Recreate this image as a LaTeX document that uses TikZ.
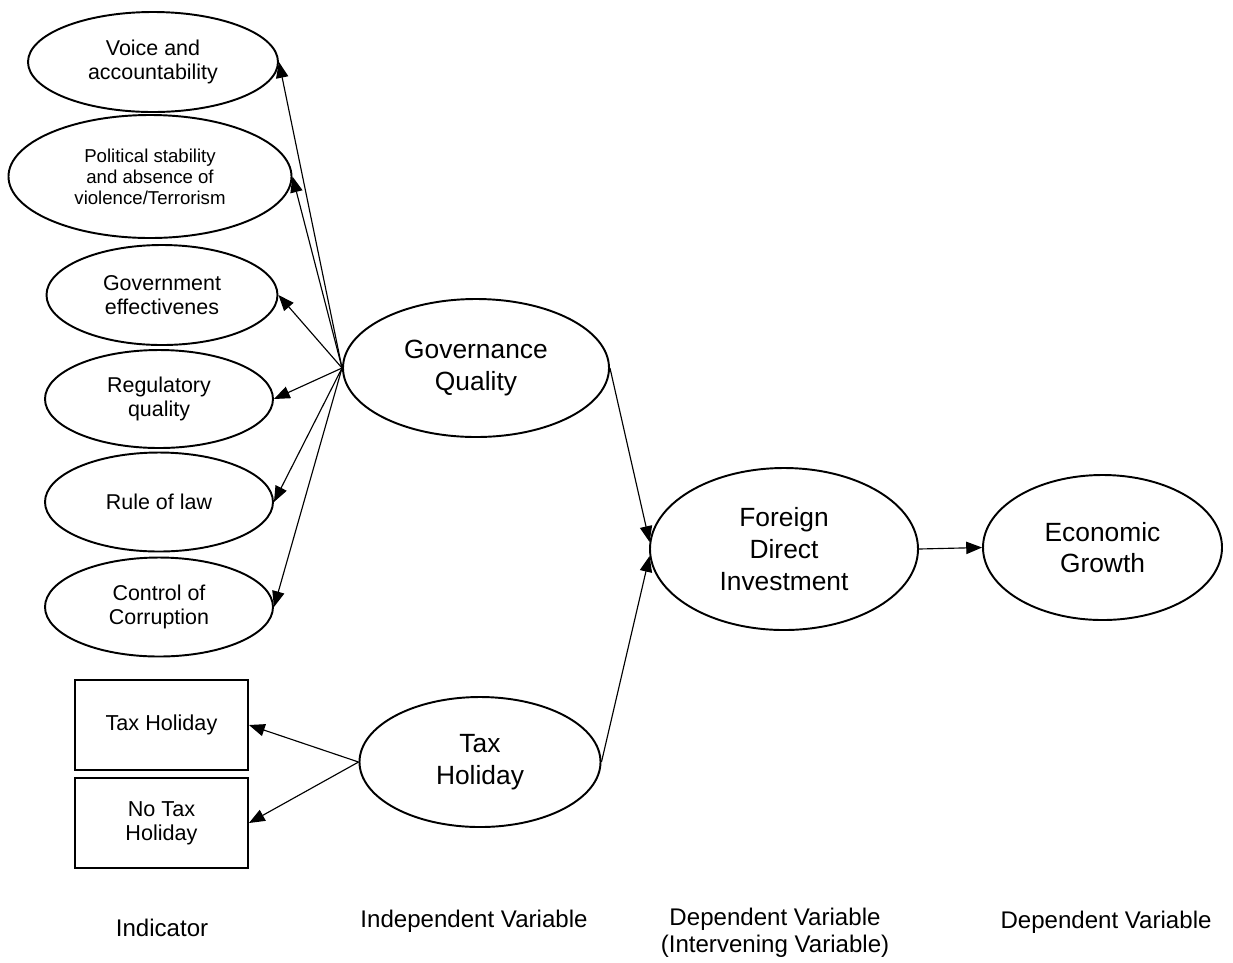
\documentclass[tikz,border=0pt]{standalone}
\usepackage{fontspec}
\setmainfont{Liberation Sans}
\usepackage{tikz}
\usetikzlibrary{shapes.geometric, arrows.meta, positioning}

\begin{document}
\begin{tikzpicture}[
      ell/.style={ellipse, draw, line width=1.1pt, inner sep=0pt, align=center},
      ind/.style={ell, font=\fontsize{12.2}{13.8}\selectfont},
      var/.style={ell, font=\fontsize{15}{18}\selectfont},
      box/.style={rectangle, draw, line width=1.1pt, inner sep=0pt,
                  minimum width=3.46cm, minimum height=1.8cm,
                  font=\fontsize{12.3}{13.8}\selectfont, align=center},
      lbl/.style={font=\fontsize{13.7}{15.4}\selectfont, align=center},
      arr/.style={-{Triangle[length=9pt,width=7pt]}, line width=0.65pt}
    ]
    \useasboundingbox (0,0) rectangle (24.66,-19.24);

    \node[ind, minimum width=5cm, minimum height=2cm] (voice) at (3.06,-1.24) {Voice and\\accountability};
    \node[ell, font=\fontsize{10.6}{12}\selectfont, minimum width=5.66cm, minimum height=2.46cm] (polit) at (3.0,-3.53) {Political stability\\and absence of\\violence/Terrorism};
    \node[ind, minimum width=4.62cm, minimum height=2cm] (goveff) at (3.24,-5.9) {Government\\effectivenes};
    \node[ind, minimum width=4.56cm, minimum height=1.96cm] (regq) at (3.18,-7.98) {Regulatory\\quality};
    \node[ind, minimum width=4.56cm, minimum height=1.98cm] (rol) at (3.18,-10.04) {Rule of law};
    \node[ind, minimum width=4.56cm, minimum height=1.98cm] (coc) at (3.18,-12.14) {Control of\\Corruption};

    \node[box] (thbox) at (3.23,-14.5) {Tax Holiday};
    \node[box] (nthbox) at (3.23,-16.46) {No Tax\\Holiday};

    \node[var, minimum width=5.32cm, minimum height=2.76cm] (gq) at (9.52,-7.36) {Governance\\Quality};
    \node[var, minimum width=4.82cm, minimum height=2.6cm] (tax) at (9.6,-15.24) {Tax\\Holiday};
    \node[var, minimum width=5.36cm, minimum height=3.24cm] (fdi) at (15.68,-10.98) {Foreign\\Direct\\Investment};
    \node[var, minimum width=4.78cm, minimum height=2.9cm] (eg) at (22.05,-10.95) {Economic\\Growth};

    \node[lbl] (lind) at (3.24,-18.56) {Indicator};
    \node[lbl] (lindep) at (9.48,-18.42) {Independent Variable};
    \node[lbl] (linter) at (15.5,-18.66) {Dependent Variable\\(Intervening Variable)};
    \node[lbl] (ldep) at (22.12,-18.44) {Dependent Variable};

    \foreach \n in {voice, polit, goveff, regq, rol, coc}
      \draw[arr] (gq.west) -- (\n.east);
    \draw[arr] (tax.west) -- (thbox.east);
    \draw[arr] (tax.west) -- (nthbox.east);
    \draw[arr] (gq.east) -- (fdi.177);
    \draw[arr] (tax.east) -- (fdi.183);
    \draw[arr] (fdi.east) -- (eg.west);
  \end{tikzpicture}
\end{document}
